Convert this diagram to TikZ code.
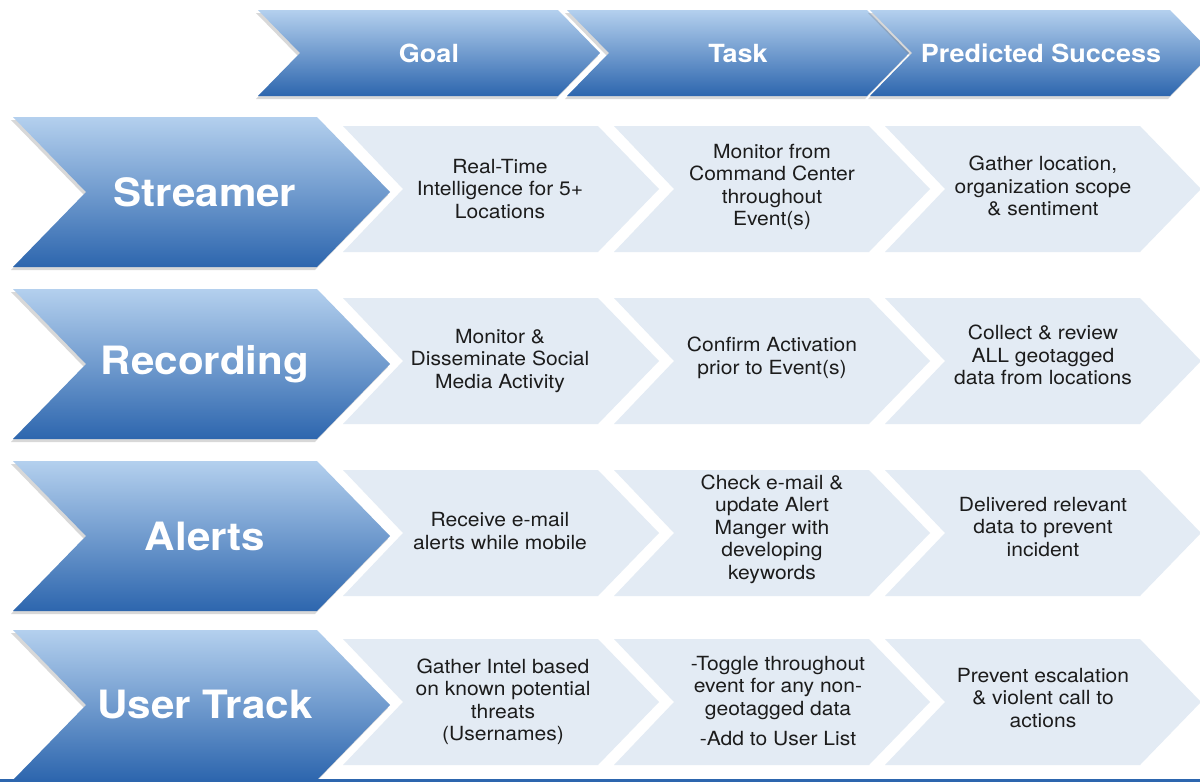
\documentclass[tikz,border=0pt]{standalone}
\usepackage{fontspec}
\setmainfont[FakeStretch=1.08]{TeX Gyre Heros}
\usetikzlibrary{shadows}
\definecolor{xanhdam}{HTML}{2D66AE}
\definecolor{xanhgiua}{HTML}{6E9ED5}
\definecolor{xanhsang}{HTML}{B4D0EE}
\definecolor{xanhnhat}{HTML}{E3EBF4}
\definecolor{chuden}{HTML}{1C1C1C}
\begin{document}
\begin{tikzpicture}[x=1pt,y=-1pt,line join=round,
	dam/.style={top color=xanhsang,middle color=xanhgiua,bottom color=xanhdam,drop shadow={shadow xshift=-2pt,shadow yshift=-3pt,opacity=0.3}},
	nhat/.style={fill=xanhnhat},
	tieude/.style={text=white,font=\fontsize{25}{28}\selectfont\bfseries},
	tenhang/.style={text=white,font=\fontsize{39}{44}\selectfont\bfseries},
	o/.style={text=chuden,align=center,font=\fontsize{19.5}{22.5}\selectfont}]
\useasboundingbox[fill=white] (0,0) rectangle (1200,782);
% Tiêu đề
\def\d{42} \def\w{342} \def\yt{10} \def\yb{96}
\foreach \x/\ten/\nhan in {258/goal/Goal,567/task/Task,870/pred/Predicted Success}{
	\shade[dam] (\x,\yt) -- (\x+\w-\d,\yt) -- (\x+\w,{(\yt+\yb)/2}) -- (\x+\w-\d,\yb) -- (\x,\yb) -- (\x+\d,{(\yt+\yb)/2}) -- cycle;
	\node[tieude] (\ten) at (\x+\w/2,{(\yt+\yb)/2}) {\nhan};
}
% Các hàng
\foreach \ten/\yc [count=\i] in {Streamer/192,Recording/364,Alerts/536,User Track/705}{
	\shade[dam] (13,\yc-75) -- (317,\yc-75) -- (390,\yc) -- (317,\yc+75) -- (13,\yc+75) -- (86,\yc) -- cycle;
	\node[tenhang] (hang\i) at (205,\yc) {\ten};
	\foreach \x in {343,614,885}
		\fill[nhat] (\x,\yc-66) -- (\x+255,\yc-66) -- (\x+316,\yc-3) -- (\x+255,\yc+60) -- (\x,\yc+60) -- (\x+60,\yc-3) -- cycle;
}
\node[o] (s1) at (500,189) {Real-Time\\Intelligence for 5+\\Locations};
\node[o] (s2) at (772,187) {Monitor from\\Command Center\\throughout\\Event(s)};
\node[o] (s3) at (1043,186) {Gather location,\\organization scope\\\& sentiment};
\node[o] (r1) at (500,361) {Monitor \&\\Disseminate Social\\Media Activity};
\node[o] (r2) at (772,358) {Confirm Activation\\prior to Event(s)};
\node[o] (r3) at (1043,355) {Collect \& review\\ALL geotagged\\data from locations};
\node[o] (a1) at (500,531) {Receive e-mail\\alerts while mobile};
\node[o] (a2) at (772,529) {Check e-mail \&\\update Alert\\Manger with\\developing\\keywords};
\node[o] (a3) at (1043,527) {Delivered relevant\\data to prevent\\incident};
\node[o] (u1) at (503,702) {Gather Intel based\\on known potential\\threats\\(Usernames)};
\node[o] (u2) at (778,701) {-Toggle throughout\\event for any non-\\geotagged data\\[8pt]-Add to User List};
\node[o] (u3) at (1043,698) {Prevent escalation\\\& violent call to\\actions};
\fill[xanhdam] (0,779) rectangle (1200,782);
\end{tikzpicture}
\end{document}
